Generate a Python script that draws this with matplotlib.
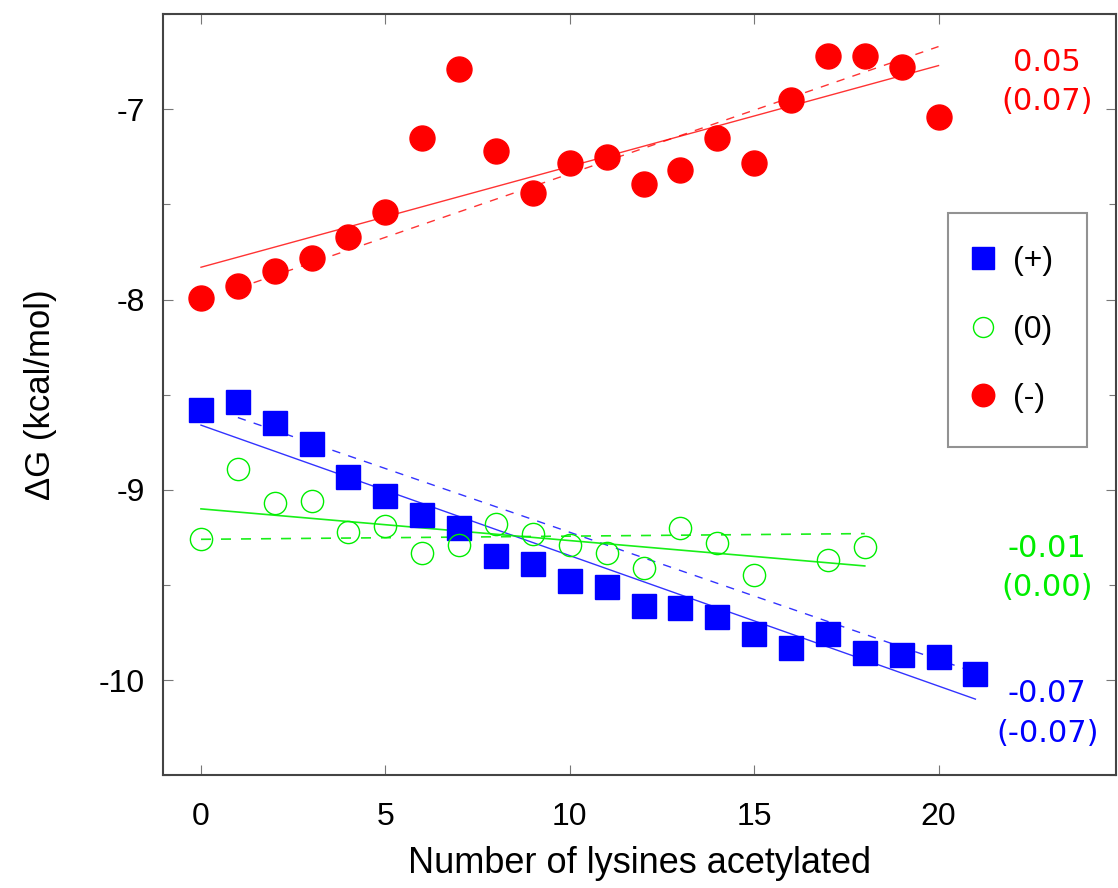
import matplotlib
matplotlib.use('Agg')
import matplotlib.pyplot as plt
from matplotlib.ticker import MultipleLocator

plt.rcParams['font.family'] = ['Liberation Sans', 'DejaVu Sans']
plt.rcParams['axes.unicode_minus'] = False

# (+) series
plus_x = list(range(22))
plus_y = [-8.58, -8.54, -8.65, -8.76, -8.93, -9.03, -9.13, -9.20, -9.35, -9.39,
          -9.48, -9.51, -9.61, -9.62, -9.67, -9.76, -9.83, -9.76, -9.86, -9.87,
          -9.88, -9.97]

# (0) series (no point at 16)
zero_x = [0, 1, 2, 3, 4, 5, 6, 7, 8, 9, 10, 11, 12, 13, 14, 15, 17, 18]
zero_y = [-9.26, -8.89, -9.07, -9.06, -9.22, -9.19, -9.33, -9.29, -9.18, -9.23,
          -9.29, -9.33, -9.41, -9.20, -9.28, -9.45, -9.37, -9.30]

# (-) series
minus_x = list(range(21))
minus_y = [-7.99, -7.93, -7.85, -7.78, -7.67, -7.54, -7.15, -6.79, -7.22, -7.44,
           -7.28, -7.25, -7.39, -7.32, -7.15, -7.28, -6.95, -6.72, -6.72, -6.78,
           -7.04]

# fitted lines (endpoints)
plus_fit_x, plus_fit_y = [0, 21], [-8.66, -10.10]
plus_fit2_x, plus_fit2_y = [1, 21], [-8.62, -9.96]
zero_fit_x, zero_fit_y = [0, 18], [-9.10, -9.40]
zero_fit2_x, zero_fit2_y = [0, 18], [-9.26, -9.23]
minus_fit_x, minus_fit_y = [0, 20], [-7.83, -6.77]
minus_fit2_x, minus_fit2_y = [1, 20], [-7.94, -6.67]

# slope labels
slope_labels = ['0.05\n(0.07)', '-0.01\n(0.00)', '-0.07\n(-0.07)']
slope_y = [-6.855, -9.41, -10.175]

blue, green, red = '#0000ff', '#00ee00', '#ff0000'

fig = plt.figure(figsize=(11.18, 8.88), dpi=100)
ax = fig.add_axes([0.1458, 0.127, 0.852, 0.857])

ax.plot(plus_fit_x, plus_fit_y, color=blue, lw=1, alpha=0.8)
ax.plot(plus_fit2_x, plus_fit2_y, color=blue, lw=1, ls=(0, (6, 6)), alpha=0.8)
ax.plot(zero_fit_x, zero_fit_y, color=green, lw=1.2, alpha=0.9)
ax.plot(zero_fit2_x, zero_fit2_y, color=green, lw=1.2, ls=(0, (6, 6)), alpha=0.9)
ax.plot(minus_fit_x, minus_fit_y, color=red, lw=1, alpha=0.8)
ax.plot(minus_fit2_x, minus_fit2_y, color=red, lw=1, ls=(0, (6, 6)), alpha=0.8)

ax.plot(plus_x, plus_y, ls='none', marker='s', ms=17, color=blue, label='(+)')
ax.plot(zero_x, zero_y, ls='none', marker='o', ms=16, mfc='none', mec=green,
        mew=1, label='(0)')
ax.plot(minus_x, minus_y, ls='none', marker='o', ms=18, color=red, label='(-)')

for lab, yy, c in zip(slope_labels, slope_y, [red, green, blue]):
    ax.text(22.95, yy, lab, color=c, fontsize=22, ha='center', va='center',
            linespacing=1.45, family='DejaVu Sans')

ax.set_xlim(-1.03, 24.8)
ax.set_ylim(-10.5, -6.5)
ax.xaxis.set_major_locator(MultipleLocator(5))
ax.yaxis.set_major_locator(MultipleLocator(1))
ax.yaxis.set_minor_locator(MultipleLocator(0.5))
ax.tick_params(which='both', direction='in', top=True, right=True,
               labelsize=23, length=7, width=0.8, color='#777777')
ax.tick_params(axis='x', pad=19)
ax.tick_params(axis='y', pad=13)
ax.tick_params(which='minor', length=5)
for s in ax.spines.values():
    s.set_linewidth(1.5)
    s.set_color('#444444')

ax.set_xlabel('Number of lysines acetylated', fontsize=26, labelpad=10)
ax.set_ylabel('ΔG (kcal/mol)', fontsize=25, labelpad=30)

leg = ax.legend(loc='upper left', bbox_to_anchor=(0.824, 0.739), fontsize=23,
                frameon=True, fancybox=False, edgecolor='#777777',
                handletextpad=0.9, labelspacing=1.2, borderpad=1.05,
                handlelength=0.1, markerscale=0.9, borderaxespad=0)
leg.get_frame().set_linewidth(1.5)

fig.savefig('out.png', dpi=100)
